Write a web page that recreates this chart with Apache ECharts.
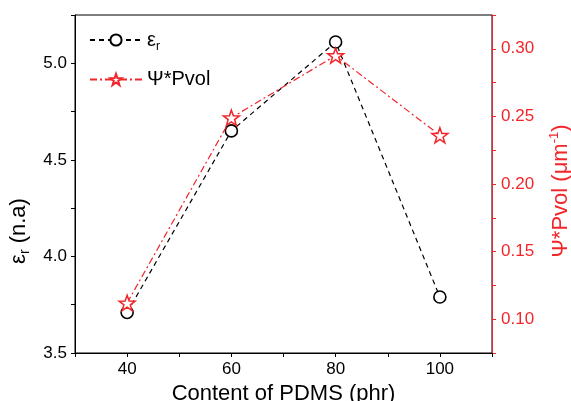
<!DOCTYPE html>
<html>
<head>
<meta charset="utf-8">
<script src="https://cdn.jsdelivr.net/npm/echarts@6/dist/echarts.min.js"></script>
<style>
  html, body { margin: 0; padding: 0; background: #fff; }
  #main { width: 571px; height: 401px; }
</style>
</head>
<body>
<div id="main"></div>
<script>
    // data
    var pdmsContent = [40, 60, 80, 100];
    var epsR = [3.71, 4.65, 5.11, 3.79];
    var psiPvol = [0.112, 0.249, 0.295, 0.236];
    var leftTicks = [3.5, 4.0, 4.5, 5.0];
    var rightTicks = [0.10, 0.15, 0.20, 0.25, 0.30];

    var starPath = 'path://M50 0 L61.8 33.8 L97.6 34.5 L69 56.2 L79.4 90.5 L50 70 L20.6 90.5 L31 56.2 L2.4 34.5 L38.2 33.8 Z';
    var font = 'Liberation Sans, Arial, sans-serif';
    var red = '#f2262a';

    var myChart = echarts.init(document.getElementById('main'));

    function pairs(ys) {
        return pdmsContent.map(function (x, i) { return [x, ys[i]]; });
    }
    function near(v, list) {
        for (var i = 0; i < list.length; i++) {
            if (Math.abs(v - list[i]) < 1e-6) return true;
        }
        return false;
    }

    var option = {
        backgroundColor: '#fff',
        animation: false,
        grid: {
            left: 75, right: 79, top: 15, bottom: 48,
            outerBoundsMode: 'none',
            containLabel: false,
            show: true, borderColor: '#000', borderWidth: 1
        },
        legend: {
            orient: 'vertical',
            left: 84, top: 25,
            itemWidth: 52, itemHeight: 14, itemGap: 17,
            textStyle: {
                fontFamily: font, fontSize: 20, color: '#000',
                rich: {
                    sub: { fontSize: 12, fontFamily: font, padding: [13, 0, 0, 0] },
                    n: { fontSize: 20, fontFamily: font }
                }
            },
            formatter: function (name) {
                if (name === 'eps') return '{n|ε}{sub|r}';
                return '{n|Ψ*Pvol}';
            },
            data: ['eps', 'psi']
        },
        xAxis: [{
            type: 'value',
            min: 30, max: 110, interval: 10,
            name: 'Content of PDMS (phr)',
            nameLocation: 'middle', nameGap: 29,
            nameTextStyle: { fontFamily: font, fontSize: 22, color: '#000' },
            axisLine: { lineStyle: { color: '#000', width: 1 } },
            axisTick: { inside: false, length: 4, lineStyle: { color: '#000' } },
            axisLabel: {
                fontFamily: font, fontSize: 17, color: '#000', margin: 8,
                formatter: function (v) { return near(v, pdmsContent) ? String(v) : ''; }
            },
            splitLine: { show: false }
        }],
        yAxis: [{
            type: 'value',
            min: 3.5, max: 5.25, interval: 0.25,
            name: '{n|ε}{sub|r}{n| (n.a)}',
            nameLocation: 'middle', nameGap: 36, nameRotate: 90,
            nameTextStyle: {
                fontFamily: font, fontSize: 22, color: '#000',
                padding: [0, 94, 0, 0],
                rich: {
                    n: { fontFamily: font, fontSize: 22, color: '#000' },
                    sub: { fontFamily: font, fontSize: 14, color: '#000', padding: [13, 0, 0, 0] }
                }
            },
            axisLine: { show: true, lineStyle: { color: '#000', width: 1 } },
            axisTick: { inside: false, length: 4, lineStyle: { color: '#000' } },
            axisLabel: {
                fontFamily: font, fontSize: 17, color: '#000', margin: 8,
                formatter: function (v) { return near(v, leftTicks) ? v.toFixed(1) : ''; }
            },
            splitLine: { show: false }
        }, {
            type: 'value',
            position: 'right',
            min: 0.075, max: 0.325, interval: 0.025,
            name: '{n|Ψ*Pvol (μm}{sup|-1}{n|)}',
            nameLocation: 'middle', nameGap: 56, nameRotate: 90,
            nameTextStyle: {
                fontFamily: font, fontSize: 22, color: red,
                padding: [0, 14, 0, 0],
                rich: {
                    n: { fontFamily: font, fontSize: 22, color: red },
                    sup: { fontFamily: font, fontSize: 13, color: red, padding: [0, 0, 12, 0] }
                }
            },
            axisLine: { show: true, lineStyle: { color: red, width: 1 } },
            axisTick: { show: true, inside: false, length: 4, lineStyle: { color: red } },
            axisLabel: {
                fontFamily: font, fontSize: 17, color: red, margin: 9,
                formatter: function (v) { return near(v, rightTicks) ? v.toFixed(2) : ''; }
            },
            splitLine: { show: false }
        }],
        series: [{
            name: 'eps',
            type: 'line',
            yAxisIndex: 0,
            data: pairs(epsR),
            symbol: 'circle',
            symbolSize: 12,
            itemStyle: { color: '#fff', borderColor: '#000', borderWidth: 1.6 },
            lineStyle: { color: '#000', width: 1.2, type: [5, 4] },
            z: 3
        }, {
            name: 'psi',
            type: 'line',
            yAxisIndex: 1,
            data: pairs(psiPvol),
            symbol: starPath,
            symbolSize: 16,
            symbolKeepAspect: true,
            itemStyle: { color: '#fff', borderColor: red, borderWidth: 1.5 },
            lineStyle: { color: red, width: 1.2, type: [7, 3, 2, 3] },
            z: 4
        }]
    };

    myChart.setOption(option);
</script>
</body>
</html>
